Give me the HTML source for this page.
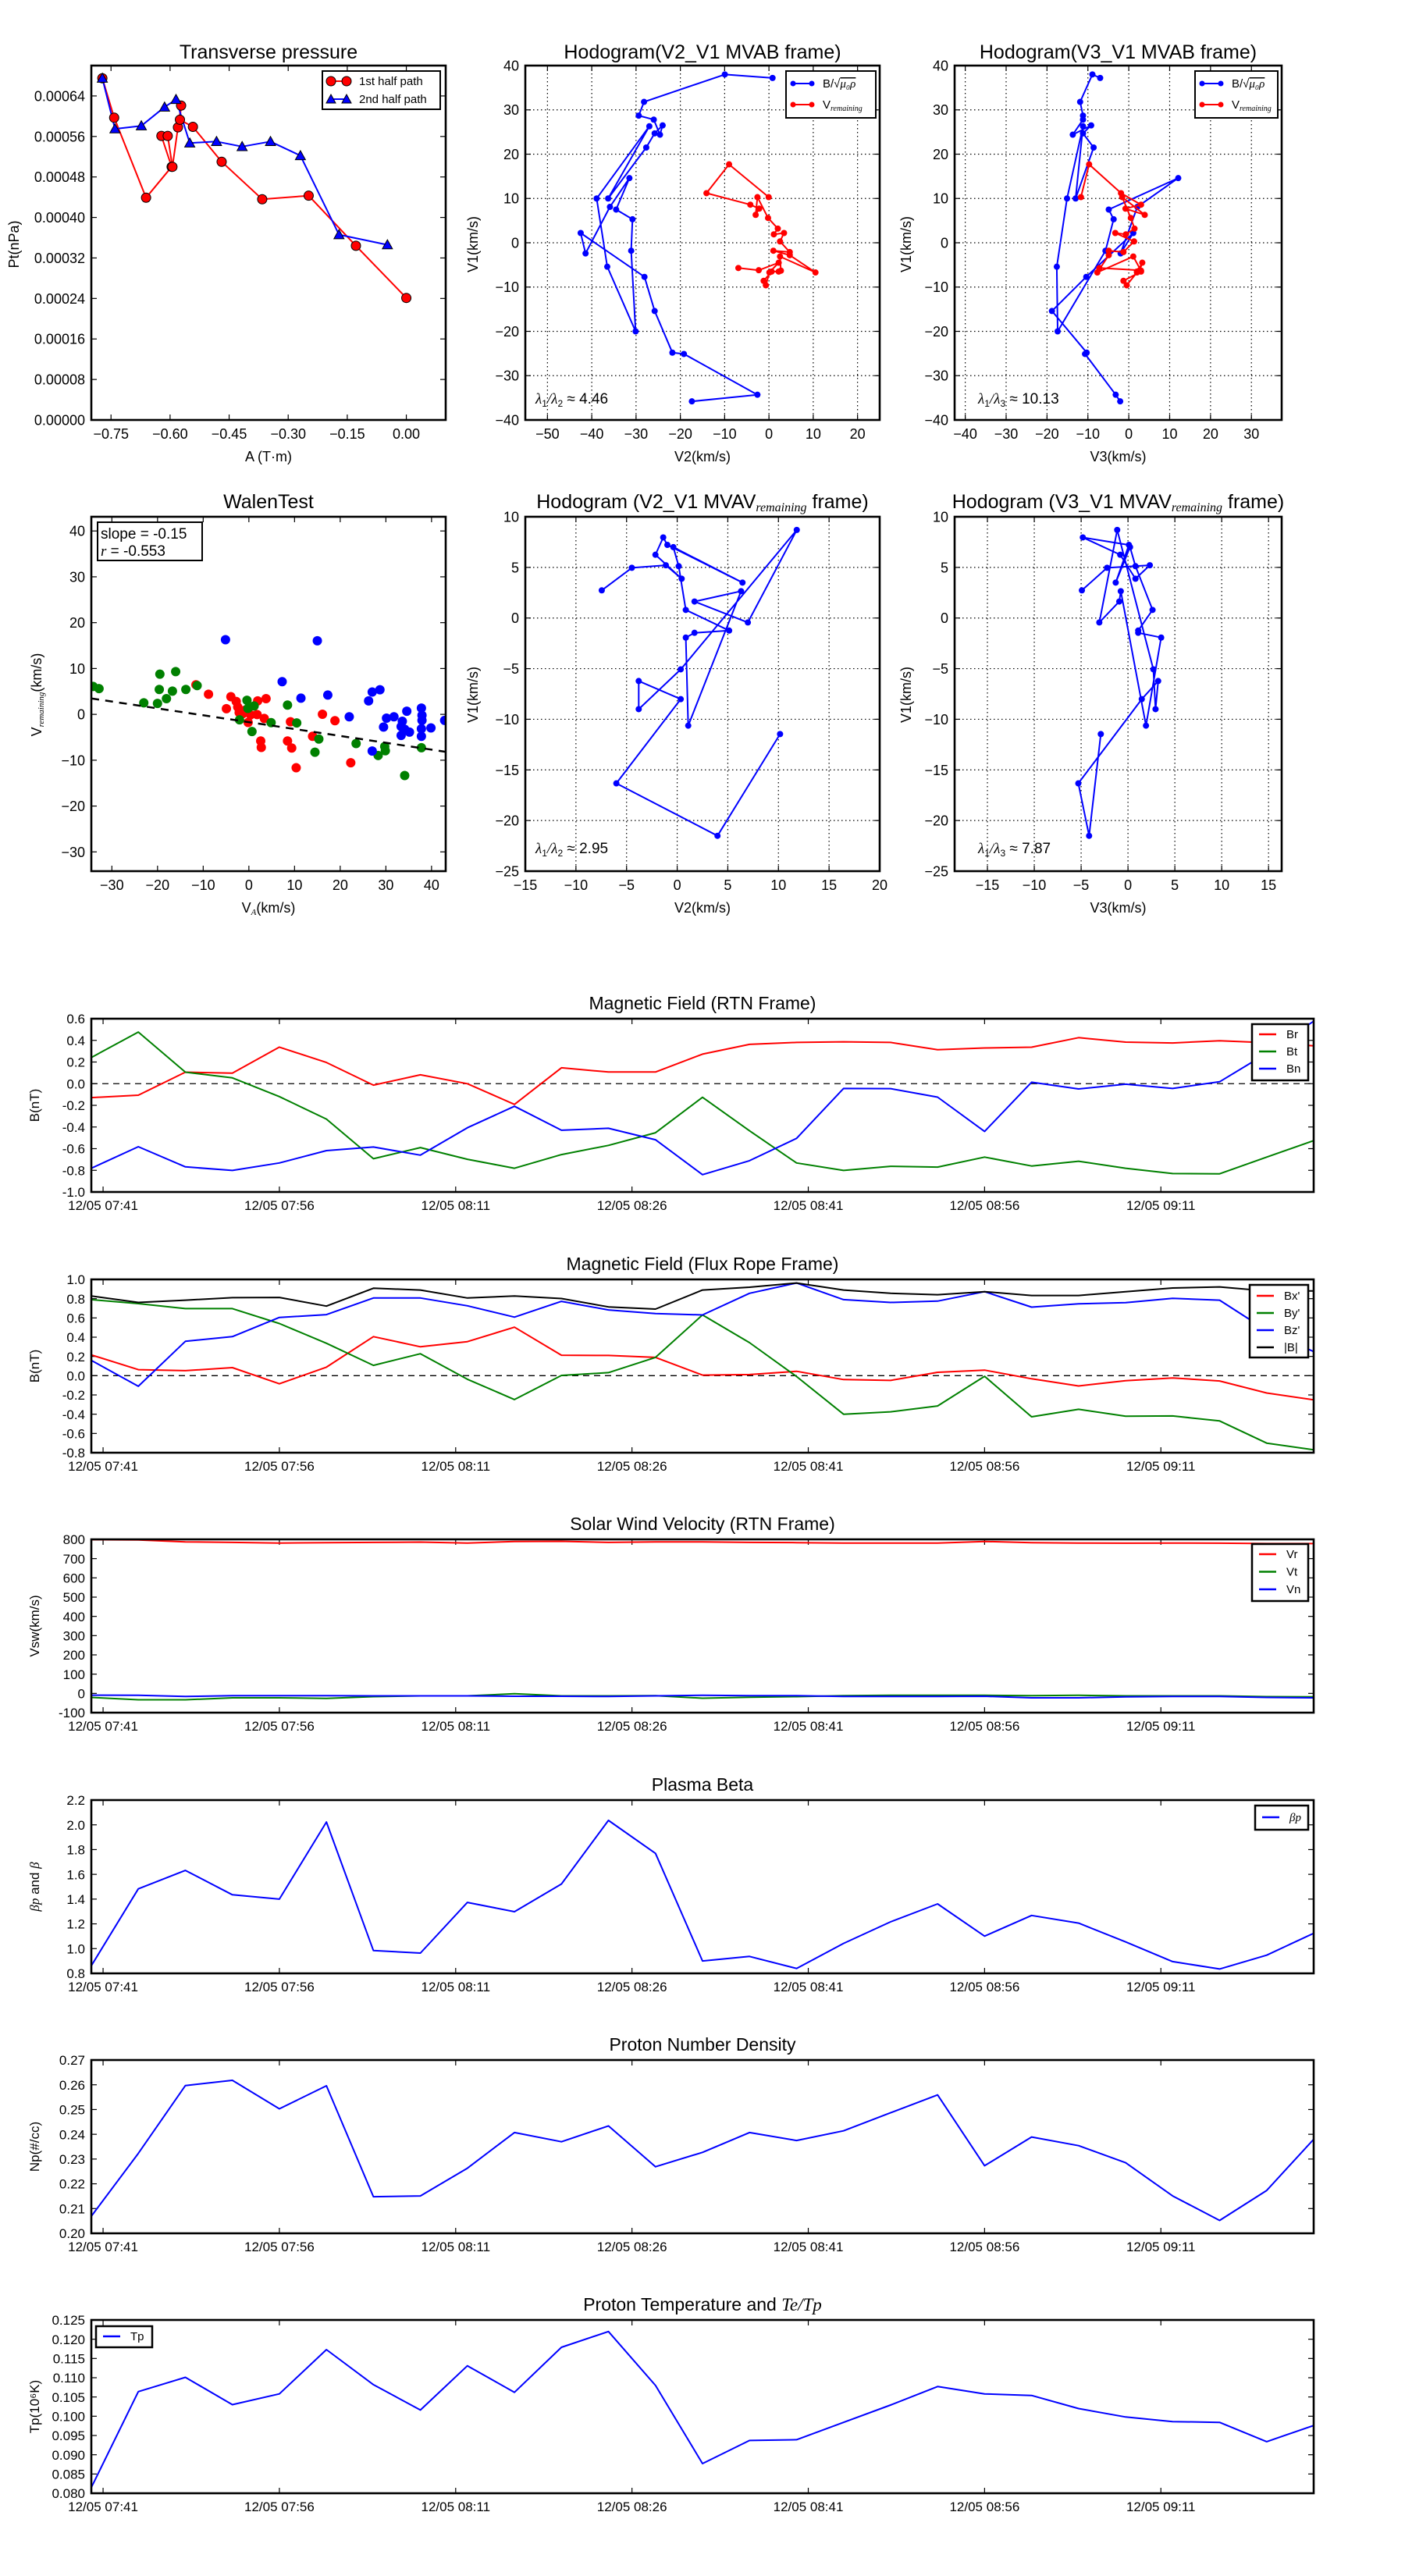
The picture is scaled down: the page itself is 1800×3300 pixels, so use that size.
<!DOCTYPE html>
<html><head><meta charset="utf-8"><title>Flux rope analysis</title>
<style>
html,body{margin:0;padding:0;background:#fff;}
svg{display:block;font-family:"Liberation Sans","DejaVu Sans",sans-serif;}
</style></head>
<body>
<svg id="fig" xmlns="http://www.w3.org/2000/svg" width="1800" height="3300" viewBox="0 0 1800 3300"></svg>
<script>
// ---------- Transverse pressure ----------
const ptA1=[-0.772,-0.742,-0.661,-0.596,-0.622,-0.606,-0.594,-0.580,-0.572,-0.575,-0.542,-0.469,-0.366,-0.248,-0.128,0.0];
const ptP1=[0.000675,0.000597,0.000439,0.000500,0.000561,0.000561,0.000500,0.000578,0.000621,0.000593,0.000579,0.000510,0.000436,0.000443,0.000344,0.000241];
const ptA2=[-0.772,-0.740,-0.673,-0.614,-0.585,-0.550,-0.482,-0.417,-0.345,-0.269,-0.171,-0.048];
const ptP2=[0.000675,0.000575,0.000581,0.000618,0.000633,0.000547,0.000550,0.000540,0.000550,0.000522,0.000366,0.000346];
// ---------- Hodogram MVAB ----------
const hbV1=[37.2,38.0,31.8,28.7,27.8,24.4,26.5,24.7,21.5,10.0,26.3,10.0,-5.4,-20.0,-1.8,5.3,7.5,14.6,8.1,-2.4,2.2,-7.7,-15.4,-24.8,-25.1,-34.3,-35.8];
const hbV2=[0.81,-9.96,-28.2,-29.4,-26.0,-24.6,-24.0,-25.8,-27.7,-36.3,-27.0,-38.9,-36.5,-30.1,-31.1,-30.8,-34.5,-31.5,-35.9,-41.4,-42.5,-28.1,-25.8,-21.8,-19.2,-2.6,-17.4];
const hbV3=[-7.0,-8.9,-11.9,-11.2,-11.2,-13.7,-9.2,-11.2,-8.6,-13.0,-11.2,-15.1,-17.6,-17.4,-5.7,-3.7,-4.9,12.1,2.1,-2.0,1.1,-10.4,-18.8,-10.3,-10.7,-3.2,-2.1];
const hvV1=[10.3,17.7,11.2,8.6,7.7,6.3,10.3,5.6,3.2,1.9,2.2,0.3,-2.1,-1.8,-2.8,-6.7,-3.1,-6.3,-6.5,-6.5,-8.6,-9.6,-6.7,-4.5,-6.2,-5.7];
const hvV2=[-0.06,-9.0,-14.1,-4.2,-2.2,-3.0,-2.6,-0.2,2.0,1.1,3.4,2.5,4.7,1.0,4.7,10.5,2.5,2.7,2.2,0.6,-1.2,-0.7,0.1,2.2,-2.3,-6.9];
const hvV3=[-11.7,-9.7,-1.9,3.0,-0.8,3.9,-1.6,0.5,1.4,-0.7,-3.3,1.3,-1.3,-4.9,-4.9,-7.7,1.1,3.0,2.0,3.0,-1.3,-0.5,2.0,3.3,2.7,-7.2];
// ---------- Walen test ----------
const wRedX=[-11.59,-8.84,-3.94,-2.77,-4.92,-2.44,-2.12,-1.33,-0.16,1.93,3.76,1.80,3.37,9.11,2.59,2.72,8.46,9.38,10.36,13.95,16.11,18.85,22.31,0.37,-0.94];
const wRedY=[6.46,4.39,3.85,2.81,1.23,1.60,0.38,0.14,-1.76,2.93,3.42,-0.04,-0.89,-1.62,-5.81,-7.21,-5.81,-7.34,-11.65,-4.78,0.02,-1.38,-10.56,-0.10,0.87];
const wGrnX=[-34.11,-32.81,-19.49,-16.03,-19.62,-16.74,-13.80,-11.33,-23.01,-20.01,-18.05,-0.42,-0.22,1.15,-2.05,0.68,4.87,8.46,10.48,14.47,15.32,23.48,28.31,29.75,29.88,34.12,37.78];
const wGrnY=[6.09,5.61,8.77,9.32,5.42,5.06,5.42,6.28,2.51,2.39,3.42,3.06,1.29,1.84,-1.20,-3.75,-1.81,2.02,-1.88,-8.26,-5.39,-6.36,-8.97,-7.03,-7.94,-13.35,-7.27];
const wBluX=[-5.12,14.99,7.29,11.40,17.28,21.98,26.22,27.01,28.70,29.49,30.14,31.77,33.60,33.34,33.34,34.58,34.12,35.17,37.78,37.91,37.91,37.78,37.78,39.87,42.87,27.01];
const wBluY=[16.29,16.05,7.13,3.54,4.21,-0.53,2.93,4.88,5.37,-2.77,-0.83,-0.53,-1.50,-2.65,-4.59,0.69,-3.26,-3.87,1.36,-0.22,-1.32,-3.14,-4.78,-2.96,-1.32,-8.00];
const wSlope=-0.15;
const wIntercept=-1.7;
// ---------- Hodogram MVAV remaining ----------
const mvV1=[2.73,4.96,5.21,3.88,6.25,7.96,7.22,3.50,7.00,5.12,0.80,-1.24,-1.46,-1.93,-10.63,2.65,1.63,-0.44,8.70,-5.07,-9.00,-6.22,-8.01,-16.33,-21.51,-11.46];
const mvV2=[-7.45,-4.48,-1.12,0.44,-2.15,-1.38,-0.97,6.45,-0.38,0.15,0.85,5.13,1.71,0.85,1.09,6.31,1.71,6.98,11.81,0.35,-3.80,-3.80,0.35,-6.01,3.98,10.16];
const mvV3=[-4.92,-2.23,2.33,0.80,-0.83,-4.82,0.10,-1.31,0.22,0.80,2.62,1.09,1.09,3.54,1.92,-0.77,-0.93,-3.06,-1.15,2.71,2.94,3.22,1.47,-5.30,-4.15,-2.90];
// ---------- Time series (27 samples, 4 min apart from 07:40) ----------
const tMinutes=[0,4,8,12,16,20,24,28,32,36,40,44,48,52,56,60,64,68,72,76,80,84,88,92,96,100,104];
const timeTickMin=[1,16,31,46,61,76,91];
const timeTickLabels=["12/05 07:41","12/05 07:56","12/05 08:11","12/05 08:26","12/05 08:41","12/05 08:56","12/05 09:11"];
const Br=[-0.129,-0.106,0.106,0.098,0.338,0.196,-0.013,0.082,0.0,-0.191,0.147,0.108,0.108,0.273,0.363,0.381,0.387,0.381,0.314,0.330,0.337,0.425,0.384,0.376,0.397,0.379,0.350];
const Bt=[0.242,0.477,0.106,0.054,-0.119,-0.327,-0.693,-0.590,-0.698,-0.781,-0.655,-0.570,-0.453,-0.126,-0.435,-0.732,-0.801,-0.763,-0.770,-0.678,-0.760,-0.716,-0.781,-0.830,-0.832,-0.678,-0.526];
const Bn=[-0.781,-0.582,-0.768,-0.801,-0.732,-0.618,-0.585,-0.660,-0.407,-0.209,-0.430,-0.412,-0.518,-0.840,-0.711,-0.505,-0.044,-0.046,-0.124,-0.441,0.013,-0.049,-0.005,-0.044,0.018,0.28,0.577];
const Bxp=[0.216,0.063,0.052,0.084,-0.084,0.089,0.406,0.300,0.354,0.504,0.213,0.210,0.190,0.006,0.012,0.046,-0.040,-0.049,0.035,0.058,-0.032,-0.107,-0.052,-0.023,-0.055,-0.18,-0.25];
const Byp=[0.79,0.749,0.697,0.697,0.542,0.337,0.107,0.228,-0.037,-0.248,0.003,0.032,0.190,0.631,0.343,-0.009,-0.40,-0.375,-0.314,-0.006,-0.427,-0.349,-0.421,-0.418,-0.47,-0.70,-0.77];
const Bzp=[0.159,-0.110,0.357,0.406,0.605,0.634,0.807,0.807,0.726,0.608,0.772,0.683,0.646,0.631,0.856,0.963,0.790,0.761,0.775,0.873,0.712,0.746,0.758,0.804,0.784,0.47,0.25];
const Bmag=[0.827,0.761,0.784,0.810,0.813,0.723,0.908,0.890,0.807,0.827,0.801,0.715,0.692,0.890,0.919,0.963,0.890,0.856,0.841,0.873,0.833,0.833,0.873,0.911,0.922,0.88,0.88];
const Vr=[798,797,787,784,781,783,784,786,781,789,790,784,787,787,784,783,781,781,781,789,783,781,780,781,780,778,778];
const Vt=[-21,-33,-33,-23,-23,-26,-17,-13,-13,-2,-13,-13,-12,-25,-20,-17,-12,-10,-10,-10,-12,-10,-13,-13,-13,-17,-18];
const Vn=[-9,-10,-16,-12,-12,-12,-13,-13,-13,-15,-15,-16,-13,-10,-12,-12,-16,-16,-16,-15,-23,-23,-18,-16,-16,-21,-23];
const betaP=[0.862,1.483,1.632,1.435,1.400,2.023,0.984,0.964,1.373,1.298,1.522,2.036,1.769,0.900,0.937,0.840,1.042,1.216,1.361,1.101,1.268,1.206,1.054,0.895,0.835,0.947,1.124];
const Np=[0.2069,0.2323,0.2597,0.2618,0.2503,0.2596,0.2148,0.2151,0.2263,0.2407,0.2370,0.2434,0.2269,0.2327,0.2407,0.2375,0.2414,0.2487,0.2559,0.2273,0.2389,0.2354,0.2285,0.2151,0.2052,0.2173,0.2380];
const Tp=[0.0815,0.1064,0.1101,0.1030,0.1058,0.1173,0.1082,0.1016,0.1131,0.1062,0.1179,0.1220,0.1080,0.0877,0.0937,0.0939,0.0984,0.1029,0.1077,0.1058,0.1054,0.1020,0.0998,0.0986,0.0984,0.0934,0.0976];

const NS='http://www.w3.org/2000/svg';
const svg=document.getElementById('fig');
let clipId=0;
function mk(tag,attrs,parent,name){
  const e=document.createElementNS(NS,tag);
  for(const k in attrs) e.setAttribute(k,attrs[k]);
  
  
  parent.appendChild(e);
  return e;
}
function txt(parent,x,y,s,size,anchor,name,extra){
  const a=Object.assign({x:x,y:y,'font-size':size,'text-anchor':anchor||'middle',fill:'#000'},extra||{});
  const t=mk('text',a,parent,name);
  t.textContent=s;
  return t;
}
function range(a,b,s){const r=[];for(let v=a;v<=b+s*1e-6;v+=s)r.push(+v.toFixed(8));return r;}
function minus(s){return s.replace('-','\u2212');}

function axes(g,f,xr,yr,xt,yt,xfmt,yfmt,opt){
  opt=opt||{};
  const sx=v=>f.l+(v-xr[0])/(xr[1]-xr[0])*(f.r-f.l);
  const sy=v=>f.b-(v-yr[0])/(yr[1]-yr[0])*(f.b-f.t);
  const fs=opt.fs||18;
  const tl=opt.tick||7;
  if(opt.grid){
    xt.forEach(v=>{mk('line',{x1:sx(v),x2:sx(v),y1:f.t,y2:f.b,stroke:'#000','stroke-width':1.2,'stroke-dasharray':'1.5,3.5'},g,'x-grid-line');});
    yt.forEach(v=>{mk('line',{x1:f.l,x2:f.r,y1:sy(v),y2:sy(v),stroke:'#000','stroke-width':1.2,'stroke-dasharray':'1.5,3.5'},g,'y-grid-line');});
  }
  xt.forEach((v,i)=>{
    const x=sx(v);
    mk('line',{x1:x,x2:x,y1:f.b,y2:f.b-tl,stroke:'#000','stroke-width':1.2},g,'x-tick');
    mk('line',{x1:x,x2:x,y1:f.t,y2:f.t+tl,stroke:'#000','stroke-width':1.2},g,'x-tick-top');
    txt(g,x,f.b+(opt.xlo||24),xfmt(v,i),fs,'middle','x-tick-label');
  });
  yt.forEach((v,i)=>{
    const y=sy(v);
    mk('line',{x1:f.l,x2:f.l+tl,y1:y,y2:y,stroke:'#000','stroke-width':1.2},g,'y-tick');
    mk('line',{x1:f.r,x2:f.r-tl,y1:y,y2:y,stroke:'#000','stroke-width':1.2},g,'y-tick-right');
    txt(g,f.l-(opt.ylo||8),y+fs*0.36,yfmt(v,i),fs,'end','y-tick-label');
  });
  clipId++;
  const cp=mk('clipPath',{id:'c'+clipId},g,'plot-clip');
  mk('rect',{x:f.l,y:f.t,width:f.r-f.l,height:f.b-f.t},cp,'plot-clip-rect');
  const dg=mk('g',{'clip-path':'url(#c'+clipId+')'},g,'plot-area');
  return {sx,sy,dg};
}
function frame(g,f){mk('rect',{x:f.l,y:f.t,width:f.r-f.l,height:f.b-f.t,fill:'none',stroke:'#000','stroke-width':2.6},g,'axes-frame');}
function polyline(g,xs,ys,sx,sy,color,w,name){
  const pts=xs.map((x,i)=>sx(x).toFixed(1)+','+sy(ys[i]).toFixed(1)).join(' ');
  return mk('polyline',{points:pts,fill:'none',stroke:color,'stroke-width':w||2,'stroke-linejoin':'round'},g,name);
}
function dots(g,xs,ys,sx,sy,color,r,name,stroke){
  xs.forEach((x,i)=>{
    const a={cx:sx(x),cy:sy(ys[i]),r:r,fill:color};
    if(stroke){a.stroke=stroke;a['stroke-width']=1;}
    mk('circle',a,g,name);
  });
}
function tris(g,xs,ys,sx,sy,color,s,name){
  xs.forEach((x,i)=>{
    const cx=sx(x),cy=sy(ys[i]);
    mk('polygon',{points:`${cx},${cy-s} ${cx-s},${cy+s*0.8} ${cx+s},${cy+s*0.8}`,fill:color,stroke:'#000','stroke-width':1},g,name);
  });
}
function ylabel(g,x,y,s,size,name){
  return txt(g,x,y,s,size,'middle',name,{transform:`rotate(-90 ${x} ${y})`});
}
const fmtInt=v=>minus(String(v));

// ===== Panel 1: Transverse pressure =====
(function(){
  const g=mk('g',{},svg,'transverse-pressure-panel');
  const f={l:117,r:571,t:84,b:538};
  txt(g,(f.l+f.r)/2,75,'Transverse pressure',25,'middle','panel-title');
  const A=axes(g,f,[-0.8,0.1],[0,0.0007],range(-0.75,0,0.15),range(0,0.00064,0.00008),v=>minus(v.toFixed(2)),v=>v.toFixed(5));
  polyline(A.dg,ptA1,ptP1,A.sx,A.sy,'#ff0000',2,'first-half-path-line');
  polyline(A.dg,ptA2,ptP2,A.sx,A.sy,'#0000ff',2,'second-half-path-line');
  dots(A.dg,ptA1,ptP1,A.sx,A.sy,'#ff0000',6,'first-half-point','#000');
  tris(A.dg,ptA2,ptP2,A.sx,A.sy,'#0000ff',6.5,'second-half-point');
  frame(g,f);
  txt(g,(f.l+f.r)/2,591,'A (T\u00b7m)',18,'middle','x-axis-title');
  ylabel(g,24,313,'Pt(nPa)',18,'y-axis-title');
  const lg=mk('g',{},g,'legend');
  mk('rect',{x:413,y:91,width:151,height:49,fill:'#fff',stroke:'#000','stroke-width':2},lg,'legend-box');
  mk('line',{x1:424,x2:444,y1:104,y2:104,stroke:'#ff0000','stroke-width':2},lg,'legend-line-1st');
  mk('circle',{cx:424,cy:104,r:6,fill:'#ff0000',stroke:'#000','stroke-width':1},lg,'legend-marker-1st');
  mk('circle',{cx:444,cy:104,r:6,fill:'#ff0000',stroke:'#000','stroke-width':1},lg,'legend-marker-1st');
  txt(lg,460,109,'1st half path',15,'start','legend-entry-1st');
  mk('line',{x1:424,x2:444,y1:127,y2:127,stroke:'#0000ff','stroke-width':2},lg,'legend-line-2nd');
  mk('polygon',{points:'424,121 418,132 430,132',fill:'#0000ff',stroke:'#000','stroke-width':1},lg,'legend-marker-2nd');
  mk('polygon',{points:'444,121 438,132 450,132',fill:'#0000ff',stroke:'#000','stroke-width':1},lg,'legend-marker-2nd');
  txt(lg,460,132,'2nd half path',15,'start','legend-entry-2nd');
})();

function hodoLegend(g,x0,y0,w){
  const lg=mk('g',{},g,'legend');
  mk('rect',{x:x0,y:y0,width:w,height:60,fill:'#fff',stroke:'#000','stroke-width':2},lg,'legend-box');
  mk('line',{x1:x0+9,x2:x0+33,y1:y0+16,y2:y0+16,stroke:'#0000ff','stroke-width':2},lg,'legend-line-b');
  mk('circle',{cx:x0+9,cy:y0+16,r:3.5,fill:'#0000ff'},lg,'legend-marker-b');
  mk('circle',{cx:x0+33,cy:y0+16,r:3.5,fill:'#0000ff'},lg,'legend-marker-b');
  const t1=txt(lg,x0+47,y0+21,'B/\u221a',15,'start','legend-entry-b');
  const ts=mk('tspan',{'font-style':'italic','text-decoration':'overline','font-family':'Liberation Serif, serif'},t1,'legend-sqrt-term');
  ts.textContent='\u03bc\u2080\u03c1';
  mk('line',{x1:x0+9,x2:x0+33,y1:y0+43,y2:y0+43,stroke:'#ff0000','stroke-width':2},lg,'legend-line-v');
  mk('circle',{cx:x0+9,cy:y0+43,r:3.5,fill:'#ff0000'},lg,'legend-marker-v');
  mk('circle',{cx:x0+33,cy:y0+43,r:3.5,fill:'#ff0000'},lg,'legend-marker-v');
  const t2=txt(lg,x0+47,y0+48,'V',15,'start','legend-entry-v');
  const sb=mk('tspan',{'font-style':'italic','font-size':10,dy:3,'font-family':'Liberation Serif, serif'},t2,'legend-subscript');
  sb.textContent='remaining';
}
function lambdaText(g,x,y,a,b,val){
  const t=txt(g,x,y,'',19,'start','eigenvalue-ratio-label');
  const p1=mk('tspan',{'font-style':'italic','font-family':'Liberation Serif, serif'},t,'lambda-a');p1.textContent='\u03bb';
  const s1=mk('tspan',{'font-size':12,dy:4},t,'lambda-a-sub');s1.textContent=a;
  const p2=mk('tspan',{dy:-4,'font-style':'italic','font-family':'Liberation Serif, serif'},t,'lambda-b');p2.textContent='/\u03bb';
  const s2=mk('tspan',{'font-size':12,dy:4},t,'lambda-b-sub');s2.textContent=b;
  const p3=mk('tspan',{dy:-4},t,'lambda-value');p3.textContent=' \u2248 '+val;
}

// ===== Panel 2 =====
(function(){
  const g=mk('g',{},svg,'hodogram-v2-v1-mvab-panel');
  const f={l:673,r:1127,t:84,b:538};
  txt(g,(f.l+f.r)/2,75,'Hodogram(V2_V1 MVAB frame)',25,'middle','panel-title');
  const A=axes(g,f,[-55,25],[-40,40],range(-50,20,10),range(-40,40,10),fmtInt,fmtInt,{grid:true});
  polyline(A.dg,hbV2,hbV1,A.sx,A.sy,'#0000ff',2,'b-alfven-hodogram-line');
  dots(A.dg,hbV2,hbV1,A.sx,A.sy,'#0000ff',4,'b-alfven-point');
  polyline(A.dg,hvV2,hvV1,A.sx,A.sy,'#ff0000',2,'v-remaining-hodogram-line');
  dots(A.dg,hvV2,hvV1,A.sx,A.sy,'#ff0000',4,'v-remaining-point');
  frame(g,f);
  lambdaText(g,686,517,'1','2','4.46');
  hodoLegend(g,1007,91,115);
  txt(g,(f.l+f.r)/2,591,'V2(km/s)',18,'middle','x-axis-title');
  ylabel(g,612,313,'V1(km/s)',18,'y-axis-title');
})();

// ===== Panel 3 =====
(function(){
  const g=mk('g',{},svg,'hodogram-v3-v1-mvab-panel');
  const f={l:1223,r:1642,t:84,b:538};
  txt(g,(f.l+f.r)/2,75,'Hodogram(V3_V1 MVAB frame)',25,'middle','panel-title');
  const A=axes(g,f,[-42.6,37.4],[-40,40],range(-40,30,10),range(-40,40,10),fmtInt,fmtInt,{grid:true});
  polyline(A.dg,hbV3,hbV1,A.sx,A.sy,'#0000ff',2,'b-alfven-hodogram-line');
  dots(A.dg,hbV3,hbV1,A.sx,A.sy,'#0000ff',4,'b-alfven-point');
  polyline(A.dg,hvV3,hvV1,A.sx,A.sy,'#ff0000',2,'v-remaining-hodogram-line');
  dots(A.dg,hvV3,hvV1,A.sx,A.sy,'#ff0000',4,'v-remaining-point');
  frame(g,f);
  lambdaText(g,1253,517,'1','3','10.13');
  hodoLegend(g,1531,91,106);
  txt(g,(f.l+f.r)/2,591,'V3(km/s)',18,'middle','x-axis-title');
  ylabel(g,1167,313,'V1(km/s)',18,'y-axis-title');
})();

// ===== Panel 4: Walen test =====
(function(){
  const g=mk('g',{},svg,'walen-test-panel');
  const f={l:117,r:571,t:662,b:1116};
  txt(g,(f.l+f.r)/2,651,'WalenTest',25,'middle','panel-title');
  const A=axes(g,f,[-34.5,43.1],[-34.2,43.1],range(-30,40,10),range(-30,40,10),fmtInt,fmtInt);
  dots(A.dg,wRedX,wRedY,A.sx,A.sy,'#ff0000',6,'walen-point-red');
  dots(A.dg,wGrnX,wGrnY,A.sx,A.sy,'#008000',6,'walen-point-green');
  dots(A.dg,wBluX,wBluY,A.sx,A.sy,'#0000ff',6,'walen-point-blue');
  const x0=-34.5,x1=43.1;
  mk('line',{x1:A.sx(x0),y1:A.sy(wSlope*x0+wIntercept),x2:A.sx(x1),y2:A.sy(wSlope*x1+wIntercept),stroke:'#000','stroke-width':2.5,'stroke-dasharray':'10,8'},A.dg,'regression-line');
  frame(g,f);
  mk('rect',{x:125,y:669,width:134,height:49,fill:'#fff',stroke:'#000','stroke-width':2},g,'fit-stats-box');
  txt(g,129,690,'slope = -0.15',19,'start','slope-label');
  const t=txt(g,129,712,'',19,'start','correlation-label');
  const r=mk('tspan',{'font-style':'italic','font-family':'Liberation Serif, serif'},t,'r-symbol');r.textContent='r';
  const r2=mk('tspan',{},t,'r-value');r2.textContent=' = -0.553';
  const xl=txt(g,(f.l+f.r)/2,1169,'V',18,'middle','x-axis-title');
  const xs=mk('tspan',{'font-style':'italic','font-size':11,dy:3,'font-family':'Liberation Serif, serif'},xl,'x-title-sub');xs.textContent='A';
  const xs2=mk('tspan',{dy:-3},xl,'x-title-unit');xs2.textContent='(km/s)';
  const yl=ylabel(g,53,890,'V',18,'y-axis-title');
  const ys=mk('tspan',{'font-style':'italic','font-size':11,dy:3,'font-family':'Liberation Serif, serif'},yl,'y-title-sub');ys.textContent='remaining';
  const ys2=mk('tspan',{dy:-3},yl,'y-title-unit');ys2.textContent='(km/s)';
})();

function mvavTitle(g,x,s1){
  const t=txt(g,x,651,s1,25,'middle','panel-title');
  const sb=mk('tspan',{'font-style':'italic','font-size':16,dy:4,'font-family':'Liberation Serif, serif'},t,'title-subscript');sb.textContent='remaining';
  const e=mk('tspan',{dy:-4},t,'title-end');e.textContent=' frame)';
}
// ===== Panel 5 =====
(function(){
  const g=mk('g',{},svg,'hodogram-v2-v1-mvav-panel');
  const f={l:673,r:1127,t:662,b:1116};
  mvavTitle(g,(f.l+f.r)/2,'Hodogram (V2_V1 MVAV');
  const A=axes(g,f,[-15,20],[-25,10],range(-15,20,5),range(-25,10,5),fmtInt,fmtInt,{grid:true});
  polyline(A.dg,mvV2,mvV1,A.sx,A.sy,'#0000ff',2,'hodogram-line');
  dots(A.dg,mvV2,mvV1,A.sx,A.sy,'#0000ff',4,'hodogram-point');
  frame(g,f);
  lambdaText(g,686,1093,'1','2','2.95');
  txt(g,(f.l+f.r)/2,1169,'V2(km/s)',18,'middle','x-axis-title');
  ylabel(g,612,890,'V1(km/s)',18,'y-axis-title');
})();
// ===== Panel 6 =====
(function(){
  const g=mk('g',{},svg,'hodogram-v3-v1-mvav-panel');
  const f={l:1223,r:1642,t:662,b:1116};
  mvavTitle(g,(f.l+f.r)/2,'Hodogram (V3_V1 MVAV');
  const A=axes(g,f,[-18.5,16.4],[-25,10],range(-15,15,5),range(-25,10,5),fmtInt,fmtInt,{grid:true});
  polyline(A.dg,mvV3,mvV1,A.sx,A.sy,'#0000ff',2,'hodogram-line');
  dots(A.dg,mvV3,mvV1,A.sx,A.sy,'#0000ff',4,'hodogram-point');
  frame(g,f);
  lambdaText(g,1253,1093,'1','3','7.87');
  txt(g,(f.l+f.r)/2,1169,'V3(km/s)',18,'middle','x-axis-title');
  ylabel(g,1167,890,'V1(km/s)',18,'y-axis-title');
})();

// ===== Time-series panels =====
function tsPanel(name,top,title,yr,yt,yfmt,series,ylab,legend,zero){
  const g=mk('g',{},svg,name);
  const f={l:117,r:1683,t:top,b:top+222};
  const tt=txt(g,(f.l+f.r)/2,top-12,title.text,23,'middle','panel-title');
  if(title.extra) title.extra(tt);
  const A=axes(g,f,[0,104],yr,timeTickMin,yt,(v,i)=>timeTickLabels[i],yfmt,{fs:17,xlo:23});
  if(zero) mk('line',{x1:f.l,x2:f.r,y1:A.sy(0),y2:A.sy(0),stroke:'#000','stroke-width':1.3,'stroke-dasharray':'8,6'},A.dg,'zero-line');
  series.forEach(s=>polyline(A.dg,tMinutes,s.d,A.sx,A.sy,s.c,2,s.n));
  frame(g,f);
  const yl=ylabel(g,50,top+111,ylab.text,17,'y-axis-title');
  if(ylab.extra) ylab.extra(yl);
  if(legend){
    const lg=mk('g',{},g,'legend');
    mk('rect',{x:legend.x,y:legend.y,width:legend.w,height:legend.h,fill:'#fff',stroke:'#000','stroke-width':2.5},lg,'legend-box');
    series.forEach((s,i)=>{
      const y=legend.y+legend.first+i*legend.step;
      mk('line',{x1:legend.x+9,x2:legend.x+31,y1:y,y2:y,stroke:s.c,'stroke-width':2.5},lg,'legend-line');
      const lt=txt(lg,legend.x+44,y+5,s.label,15,'start','legend-entry');
      if(s.labelItalic){lt.setAttribute('font-style','italic');lt.setAttribute('font-family','Liberation Serif, serif');}
    });
  }
}
const f1=v=>v.toFixed(1);
tsPanel('magnetic-field-rtn-panel',1305,{text:'Magnetic Field (RTN Frame)'},[-1.0,0.6],range(-1.0,0.6,0.2),f1,
  [{d:Br,c:'#ff0000',n:'br-line',label:'Br'},{d:Bt,c:'#008000',n:'bt-line',label:'Bt'},{d:Bn,c:'#0000ff',n:'bn-line',label:'Bn'}],
  {text:'B(nT)'},{x:1604,y:1312,w:72,h:72,first:13,step:22},true);
tsPanel('magnetic-field-flux-rope-panel',1639,{text:'Magnetic Field (Flux Rope Frame)'},[-0.8,1.0],range(-0.8,1.0,0.2),f1,
  [{d:Bxp,c:'#ff0000',n:'bx-prime-line',label:"Bx'"},{d:Byp,c:'#008000',n:'by-prime-line',label:"By'"},{d:Bzp,c:'#0000ff',n:'bz-prime-line',label:"Bz'"},{d:Bmag,c:'#000000',n:'b-magnitude-line',label:'|B|'}],
  {text:'B(nT)'},{x:1601,y:1646,w:75,h:93,first:14,step:22},true);
tsPanel('solar-wind-velocity-panel',1972,{text:'Solar Wind Velocity (RTN Frame)'},[-100,800],range(-100,800,100),v=>String(v),
  [{d:Vr,c:'#ff0000',n:'vr-line',label:'Vr'},{d:Vt,c:'#008000',n:'vt-line',label:'Vt'},{d:Vn,c:'#0000ff',n:'vn-line',label:'Vn'}],
  {text:'Vsw(km/s)'},{x:1604,y:1978,w:72,h:73,first:13,step:22.5},false);
tsPanel('plasma-beta-panel',2306,{text:'Plasma Beta'},[0.8,2.2],range(0.8,2.2,0.2),f1,
  [{d:betaP,c:'#0000ff',n:'beta-p-line',label:'\u03b2p',labelItalic:true}],
  {text:'',extra:t=>{const a=mk('tspan',{'font-style':'italic','font-family':'Liberation Serif, serif'},t,'beta-p-symbol');a.textContent='\u03b2p';const b=mk('tspan',{},t,'beta-and');b.textContent=' and ';const c=mk('tspan',{'font-style':'italic','font-family':'Liberation Serif, serif'},t,'beta-symbol');c.textContent='\u03b2';}},
  {x:1608,y:2313,w:68,h:31,first:15,step:22},false);
tsPanel('proton-density-panel',2639,{text:'Proton Number Density'},[0.20,0.27],range(0.20,0.27,0.01),v=>v.toFixed(2),
  [{d:Np,c:'#0000ff',n:'np-line',label:'Np'}],{text:'Np(#/cc)'},null,false);
tsPanel('proton-temperature-panel',2972,{text:'Proton Temperature and ',extra:t=>{const a=mk('tspan',{'font-style':'italic','font-family':'Liberation Serif, serif'},t,'te-tp-ratio');a.textContent='Te/Tp';}},[0.080,0.125],range(0.080,0.125,0.005),v=>v.toFixed(3),
  [{d:Tp,c:'#0000ff',n:'tp-line',label:'Tp'}],
  {text:'Tp(10\u2076K)'},{x:123,y:2980,w:72,h:27,first:13,step:22},false);
</script>
</body></html>
